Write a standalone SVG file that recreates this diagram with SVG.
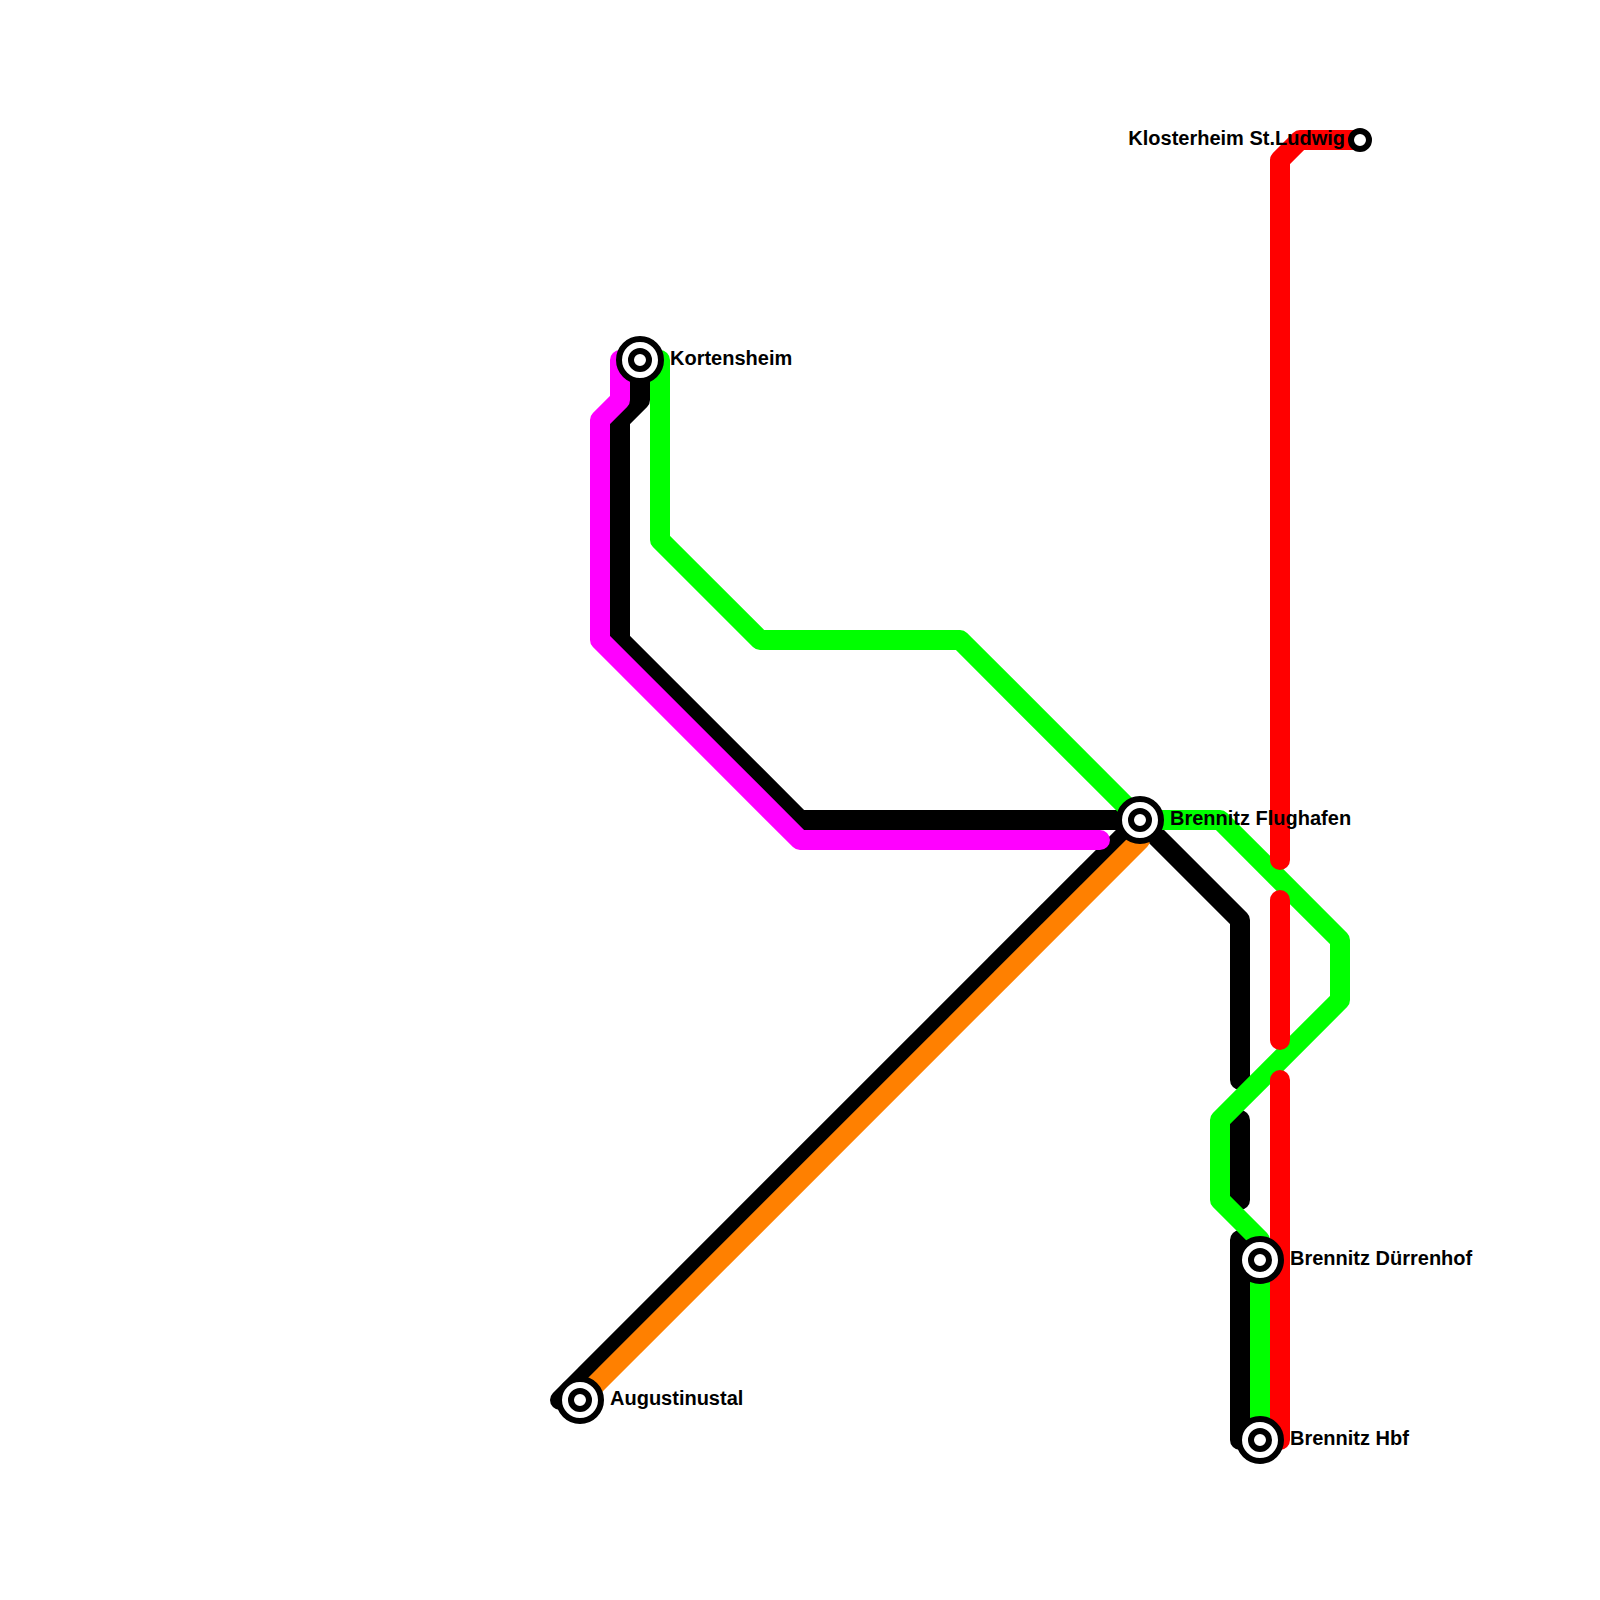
<svg xmlns="http://www.w3.org/2000/svg" width="1600" height="1600" viewBox="0 0 1600 1600">
<style>
.l{fill:none;stroke-width:20;stroke-linecap:round;stroke-linejoin:round}
.k{stroke:#000}.m{stroke:#f0f}.o{stroke:#ff8000}.g{stroke:#0f0}.r{stroke:#f00}
.s{fill:#fff;stroke:#000;stroke-width:6}
text{font-family:"Liberation Sans",Arial,sans-serif;font-weight:bold;font-size:20px;fill:#000}
</style>
<defs>
<g id="st"><circle class="s" r="21"/><circle class="s" r="9"/></g>
</defs>
<g id="connectors">
<path class="l k" d="M640 360V400L620 420V640L800 820H1140L1240 920V1080"/>
<path class="l k" d="M1240 1120V1200"/>
<path class="l k" d="M1240 1240V1440H1260"/>
<path class="l k" d="M560 1400L1140 820"/>
<path class="l m" d="M620 360V400L600 420V640L800 840H1100"/>
<path class="l o" d="M580 1400L1140 840"/>
<path class="l g" d="M660 360V540L760 640H960L1140 820H1220L1340 940V1000L1220 1120V1200L1260 1240V1440"/>
<path class="l r" d="M1360 140H1300L1280 160V860"/>
<path class="l r" d="M1280 900V1040"/>
<path class="l r" d="M1280 1080V1440H1260"/>
</g>
<g id="kortensheim"><use href="#st" x="640" y="360"/><text x="670" y="365">Kortensheim</text></g>
<g id="brennitz-flughafen"><use href="#st" x="1140" y="820"/><text x="1170" y="825">Brennitz Flughafen</text></g>
<g id="brennitz-duerrenhof"><use href="#st" x="1260" y="1260"/><text x="1290" y="1265">Brennitz Dürrenhof</text></g>
<g id="brennitz-hbf"><use href="#st" x="1260" y="1440"/><text x="1290" y="1445">Brennitz Hbf</text></g>
<g id="augustinustal"><use href="#st" x="580" y="1400"/><text x="610" y="1405">Augustinustal</text></g>
<g id="klosterheim"><circle class="s" cx="1360" cy="140" r="9"/><text x="1345" y="145" text-anchor="end">Klosterheim St.Ludwig</text></g>
</svg>
